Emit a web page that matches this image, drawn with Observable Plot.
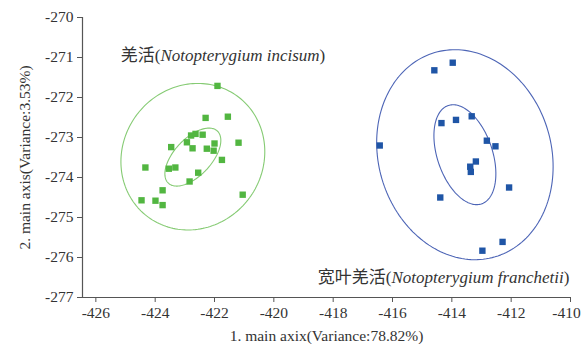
<!DOCTYPE html>
<html><head><meta charset="utf-8">
<script src="https://cdn.jsdelivr.net/npm/d3@7"></script>
<script src="https://cdn.jsdelivr.net/npm/@observablehq/plot@0.6"></script>
<style>
body{margin:0;background:#fff}
#chart svg, #chart svg text{font-family:"Liberation Serif","DejaVu Serif",serif !important;font-variant:normal !important;}
#chart svg .cn{font-family:"Noto Sans CJK SC",sans-serif !important;}
</style>
</head><body><div id="chart"></div>
<script>
// Group 1: 羌活 (green)
const greenX = [-421.90,-422.30,-421.55,-422.79,-422.64,-422.40,-422.93,-422.00,-421.19,-423.46,-422.74,-422.26,-422.03,-421.75,-424.33,-423.54,-423.32,-422.55,-422.84,-423.75,-424.46,-423.99,-423.75,-421.05];
const greenY = [-271.71,-272.51,-272.48,-272.95,-272.91,-272.93,-273.12,-273.15,-273.13,-273.24,-273.27,-273.28,-273.33,-273.56,-273.75,-273.78,-273.75,-273.88,-274.10,-274.32,-274.57,-274.58,-274.69,-274.43];
// Group 2: 宽叶羌活 (blue)
const blueX = [-413.97,-414.59,-416.43,-414.35,-413.86,-413.33,-412.82,-412.53,-413.19,-413.38,-413.36,-412.07,-414.39,-412.29,-412.97];
const blueY = [-271.13,-271.32,-273.20,-272.64,-272.56,-272.47,-273.08,-273.22,-273.60,-273.73,-273.86,-274.25,-274.50,-275.61,-275.83];

// Confidence ellipses: center, conjugate semi-axis vectors (data units)
const ellipseGroup = ["green","green","blue","blue"];
const ellipseCX = [-422.73,-422.73,-413.56,-413.56];
const ellipseCY = [-273.48,-273.49,-273.43,-273.43];
const ellipseUX = [2.425,0.943,2.974,1.044];
const ellipseUY = [0.125,0.4175,-0.30,-0.475];
const ellipseVY = [1.8275,0.5925,2.6075,1.155];

const labelText = ["羌活|Notopterygium incisum","宽叶羌活|Notopterygium franchetii"];
const labelX = [-425.16,-418.52];
const labelY = [-270.95,-276.5];

const xTicks = [-426,-424,-422,-420,-418,-416,-414,-412,-410];
const yTicks = [-277,-276,-275,-274,-273,-272,-271,-270];
const xDomain = [-426.45,-410];
const yDomain = [-277,-270];

const colors = {green:"#52b641", blue:"#1f55a6"};
const ellipseColors = {green:"#86cb74", blue:"#4d65b6"};

const points = [
  ...greenX.map((x,i)=>({x, y:greenY[i], g:"green"})),
  ...blueX.map((x,i)=>({x, y:blueY[i], g:"blue"}))
];
const ellipsePts = [];
ellipseGroup.forEach((g,k)=>{
  for (let i=0;i<=180;i++){
    const t = i/180*2*Math.PI;
    ellipsePts.push({k, g,
      x: ellipseCX[k] + ellipseUX[k]*Math.cos(t),
      y: ellipseCY[k] + ellipseUY[k]*Math.cos(t) + ellipseVY[k]*Math.sin(t)});
  }
});
const labels = labelText.map((t,i)=>({t, x:labelX[i], y:labelY[i]}));

const serif = '"Liberation Serif","DejaVu Serif",serif';
const chart = Plot.plot({
  width:582, height:344,
  marginLeft:82, marginRight:12, marginTop:17, marginBottom:47,
  x:{domain:xDomain},
  y:{domain:yDomain},
  style:{fontSize:"15.5px", color:"#333", background:"#fff", overflow:"visible"},
  marks:[
    Plot.line(ellipsePts,{x:"x", y:"y", z:"k", stroke:d=>ellipseColors[d.g], strokeWidth:1.1, curve:"linear-closed"}),
    Plot.dot(points,{x:"x", y:"y", symbol:"square", r:3.6, fill:d=>colors[d.g], stroke:"none"}),
    Plot.text(labels,{x:"x", y:"y", text:"t", textAnchor:"start", fontSize:17, fill:"#333", className:"grplabel"}),
    Plot.ruleX([xDomain[0]],{stroke:"#555", strokeWidth:1.2}),
    Plot.ruleY([yDomain[0]],{stroke:"#555", strokeWidth:1.2}),
    Plot.axisX({ticks:xTicks, tickSize:5, tickPadding:4, tickFormat:d=>String(d), stroke:"#555", fontSize:15.5,
      label:"1. main axix(Variance:78.82%)", labelAnchor:"center", labelArrow:"none", labelOffset:43}),
    Plot.axisY({ticks:yTicks, tickSize:5, tickPadding:4, tickFormat:d=>String(d), stroke:"#555", fontSize:15.5,
      label:"2. main axis(Variance:3.53%)", labelAnchor:"center", labelArrow:"none", labelOffset:64})
  ]
});
document.getElementById("chart").appendChild(chart);
// force serif font on every text (tick labels included)
d3.select(chart).selectAll("g, text").each(function(){
  if (this.tagName === "text" || this.getAttribute("font-family") || this.getAttribute("font-variant")) {
    this.removeAttribute("font-family");
    this.removeAttribute("font-variant");
  }
});
d3.select(chart).selectAll("text").style("font-family", serif).style("font-variant","normal");
d3.select(chart).selectAll('g[aria-label$="tick label"] text').style("font-size","15.5px").style("fill","#333");
// mixed styling: Chinese upright, Latin name italic
d3.select(chart).selectAll(".grplabel text").each(function(){
  const full = this.textContent;
  const [cn, la] = full.split("|");
  const s = d3.select(this); s.text(null);
  s.append("tspan").attr("class","cn").style("font-family",'"Noto Sans CJK SC",sans-serif').text(cn);
  s.append("tspan").text("(");
  s.append("tspan").attr("font-style","italic").text(la);
  s.append("tspan").text(")");
});
// keep the last x tick label inside the picture, as in the reference
d3.select(chart).selectAll("text").filter(function(){return this.textContent === "-410";}).attr("dx", -4);
</script>
</body></html>
